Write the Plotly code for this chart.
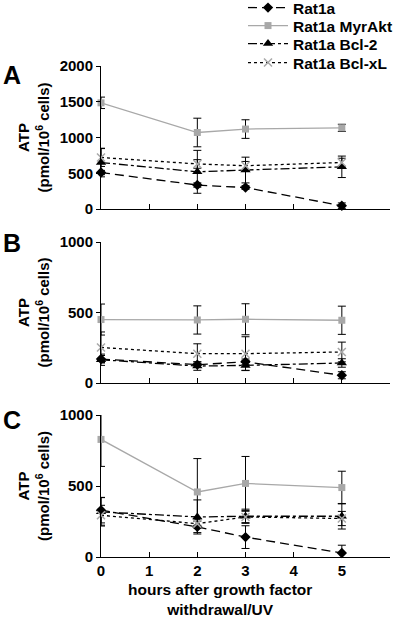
import plotly.graph_objects as go

hours = [0, 2, 3, 5]
series_names = ["Rat1a", "Rat1a MyrAkt", "Rat1a Bcl-2", "Rat1a Bcl-xL"]

# Panel A
A_rat1a = [510, 335, 300, 45]
A_rat1a_err = [30, 30, 25, 40]
A_myrakt = [1485, 1070, 1118, 1135]
A_myrakt_err = [80, 200, 130, 50]
A_bcl2 = [650, 520, 545, 590]
A_bcl2_err = [200, 300, 180, 150]
A_bclxl = [720, 630, 605, 650]
A_bclxl_err = [125, 60, 60, 60]

# Panel B
B_rat1a = [170, 130, 150, 55]
B_rat1a_err = [25, 20, 20, 25]
B_myrakt = [450, 447, 452, 445]
B_myrakt_err = [110, 100, 110, 100]
B_bcl2 = [165, 120, 125, 142]
B_bcl2_err = [40, 30, 35, 30]
B_bclxl = [252, 208, 208, 220]
B_bclxl_err = [110, 70, 120, 70]

# Panel C
C_rat1a = [330, 212, 140, 28]
C_rat1a_err = [90, 40, 80, 55]
C_myrakt = [828, 458, 518, 489]
C_myrakt_err = [190, 235, 190, 115]
C_bcl2 = [318, 282, 287, 287]
C_bcl2_err = [100, 120, 50, 90]
C_bclxl = [294, 235, 282, 271]
C_bclxl_err = [70, 30, 40, 50]

y_ticks_A = [0, 500, 1000, 1500, 2000]
y_ticks_BC = [0, 500, 1000]
x_ticks = [0, 1, 2, 3, 4, 5, 6]
x_ticktext = ["0", "1", "2", "3", "4", "5", ""]

styles = [
    dict(line=dict(color="black", width=1.3, dash="9px,5px"),
         marker=dict(symbol="diamond", size=8, color="black")),
    dict(line=dict(color="#a8a8a8", width=1.3, dash="solid"),
         marker=dict(symbol="square", size=7, color="#a8a8a8")),
    dict(line=dict(color="black", width=1.3, dash="9px,3px,3px,3px"),
         marker=dict(symbol="triangle-up", size=9, color="black")),
    dict(line=dict(color="black", width=1.3, dash="3px,3px"),
         marker=dict(symbol="x-thin", size=8, color="#a8a8a8",
                     line=dict(color="#a8a8a8", width=1.5))),
]

panels = [
    ("", "y", [A_rat1a, A_myrakt, A_bcl2, A_bclxl],
     [A_rat1a_err, A_myrakt_err, A_bcl2_err, A_bclxl_err]),
    ("2", "y2", [B_rat1a, B_myrakt, B_bcl2, B_bclxl],
     [B_rat1a_err, B_myrakt_err, B_bcl2_err, B_bclxl_err]),
    ("3", "y3", [C_rat1a, C_myrakt, C_bcl2, C_bclxl],
     [C_rat1a_err, C_myrakt_err, C_bcl2_err, C_bclxl_err]),
]

legend_ids = ["legend", "legend2", "legend3", "legend4"]

fig = go.Figure()
for pi, (suf, yname, vals, errs) in enumerate(panels):
    for si in range(4):
        fig.add_trace(go.Scatter(
            x=hours, y=vals[si], name=series_names[si],
            mode="lines+markers",
            xaxis="x" + suf, yaxis=yname,
            showlegend=(pi == 0), legend=legend_ids[si],
            cliponaxis=False,
            error_y=dict(type="data", array=errs[si], color="black",
                         thickness=1, width=4),
            **styles[si]))

L, R, T, B = 101, 10, 66, 62
H = 619
ph = H - T - B
pw = 400 - L - R

def frac(px):
    return 1 - (px - T) / ph

domains = [[frac(209), frac(66)], [frac(383), frac(242)], [frac(557), frac(415)]]

font_family = "Liberation Sans, Arial, sans-serif"
axis_common = dict(showline=True, linecolor="black", linewidth=1,
                   showgrid=False, zeroline=False, automargin=False,
                   ticks="outside", ticklen=4, tickcolor="black",
                   tickfont=dict(size=15, color="black", family=font_family, weight="bold"))

layout = dict(
    width=400, height=619,
    margin=dict(l=L, r=R, t=T, b=B, autoexpand=False),
    paper_bgcolor="white", plot_bgcolor="white",
    font=dict(family=font_family, color="black", size=13, weight="bold"),
)

legend_rows = [8, 26, 44, 63]
for lid, row in zip(legend_ids, legend_rows):
    layout[lid] = dict(x=(243 - L) / pw, y=frac(row), xanchor="left", yanchor="middle",
                       font=dict(size=15.5, weight="bold"), bgcolor="rgba(0,0,0,0)",
                       borderwidth=0, itemwidth=40)

ytitle = "ATP<br>(pmol/10<sup>6</sup> cells)"
for i, suf in enumerate(["", "2", "3"]):
    layout["xaxis" + suf] = dict(
        axis_common, range=[0, 6], tickvals=x_ticks,
        ticktext=x_ticktext, showticklabels=(i == 2),
        ticks="inside", ticklen=5,
        anchor="y" + suf, domain=[0, 1])
    layout["yaxis" + suf] = dict(
        axis_common, range=[0, 2000 if i == 0 else 1000],
        tickvals=y_ticks_A if i == 0 else y_ticks_BC,
        domain=domains[i], anchor="x" + suf,
        title=dict(text=ytitle, font=dict(size=15, weight="bold"), standoff=6))

fig.update_layout(**layout)

letters = [("A", 75), ("B", 243), ("C", 420)]
for txt, py in letters:
    fig.add_annotation(text=txt, xref="paper", yref="paper",
                       x=(12 - L) / pw, y=frac(py), xanchor="center", yanchor="middle",
                       showarrow=False, font=dict(size=25, weight="bold"))

fig.add_annotation(text="hours after growth factor<br>withdrawal/UV",
                   xref="paper", yref="paper", x=(220 - L) / pw, y=0,
                   xanchor="center", yanchor="top", yshift=-22,
                   showarrow=False, font=dict(size=15.5, weight="bold"))

fig.write_html("out.html", config={"displayModeBar": False},
               post_script="document.body.style.margin='0';document.body.style.overflow='hidden';")
